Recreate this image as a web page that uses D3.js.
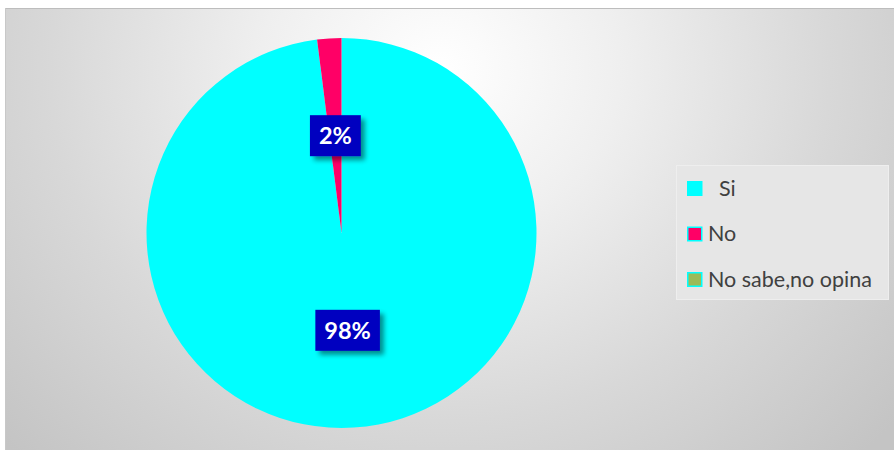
<!DOCTYPE html>
<html><head><meta charset="utf-8">
<script src="https://cdn.jsdelivr.net/npm/d3@7"></script>
<style>html,body{margin:0;padding:0;background:#fff;}svg{display:block;}</style>
</head><body>
<svg id="c" width="894" height="450"></svg>
<script>
const categories = ["Si", "No", "No sabe,no opina"];
const values = [98, 2, 0];
const labels = ["98%", "2%", ""];
const colors = ["#00FFFF", "#FF0066", "#9BBB59"];
const legendLabels = ["  Si", "No", "No sabe,no opina"];

const svg = d3.select("#c");
const defs = svg.append("defs");
const g = defs.append("radialGradient").attr("id","bg")
  .attr("gradientUnits","userSpaceOnUse").attr("cx",440).attr("cy",70).attr("r",600)
  .attr("gradientTransform","translate(440,70) scale(1,0.9) translate(-440,-70)");
g.append("stop").attr("offset","0").attr("stop-color","#ffffff");
g.append("stop").attr("offset","0.3").attr("stop-color","#efefef");
g.append("stop").attr("offset","0.65").attr("stop-color","#d8d8d8");
g.append("stop").attr("offset","1").attr("stop-color","#c4c4c4");

const f = defs.append("filter").attr("id","sh").attr("x","-20%").attr("y","-20%").attr("width","150%").attr("height","160%");
f.append("feGaussianBlur").attr("in","SourceAlpha").attr("stdDeviation",2.5);
f.append("feOffset").attr("dx",4).attr("dy",4).attr("result","b");
f.append("feComponentTransfer").append("feFuncA").attr("type","linear").attr("slope",0.45);
const m = f.append("feMerge"); m.append("feMergeNode"); m.append("feMergeNode").attr("in","SourceGraphic");

svg.append("rect").attr("x",5).attr("y",9).attr("width",889).attr("height",441).attr("fill","url(#bg)");
svg.append("line").attr("x1",5).attr("x2",894).attr("y1",8.5).attr("y2",8.5).attr("stroke","#bdbdbd");
svg.append("line").attr("x1",5.5).attr("x2",5.5).attr("y1",8).attr("y2",450).attr("stroke","#c8c8c8");

const cx = 341.5, cy = 233, r = 195;
const pie = d3.pie().sort(null).value(d => d)(values);
const arc = d3.arc().innerRadius(0).outerRadius(r);
const pg = svg.append("g").attr("transform", `translate(${cx},${cy})`);
pg.selectAll("path").data(pie).join("path")
  .attr("d", arc).attr("fill", (d,i) => colors[i]);

const lg = pg.selectAll("g.lab").data(pie.filter(d => d.data > 0)).join("g")
  .attr("transform", d => `translate(${arc.centroid(d)})`);
lg.each(function(d){
  const i = pie.indexOf(d);
  const gg = d3.select(this);
  const t = gg.append("text").text(labels[i])
    .attr("font-family","Lato, 'Open Sans', sans-serif").attr("font-weight","bold")
    .attr("font-size",23.5).attr("fill","#fff").attr("text-anchor","middle").attr("dy","0.37em");
  const w = t.node().getComputedTextLength();
  gg.insert("rect","text").attr("x",-w/2-9).attr("y",-20.5).attr("width",w+18).attr("height",41)
    .attr("fill","#0000C0").attr("filter","url(#sh)");
});

// legend
const leg = svg.append("g");
leg.append("rect").attr("x",676.5).attr("y",165.5).attr("width",212).attr("height",134)
  .attr("fill","#e6e6e6").attr("stroke","#eeeeee");
const items = leg.selectAll("g.it").data(categories).join("g")
  .attr("transform",(d,i)=>`translate(687,${181 + i*45.5})`);
items.append("rect").attr("x",0.75).attr("y",0.75).attr("width",14).attr("height",13.5)
  .attr("fill",(d,i)=>colors[i]).attr("stroke","#00FFFF").attr("stroke-width",1.5);
items.append("text").text((d,i)=>legendLabels[i]).style("white-space","pre")
  .attr("x",21).attr("y",14.5)
  .attr("font-family","Lato, 'Open Sans', sans-serif").attr("font-size",21.5).attr("fill","#404040");
</script>
</body></html>
